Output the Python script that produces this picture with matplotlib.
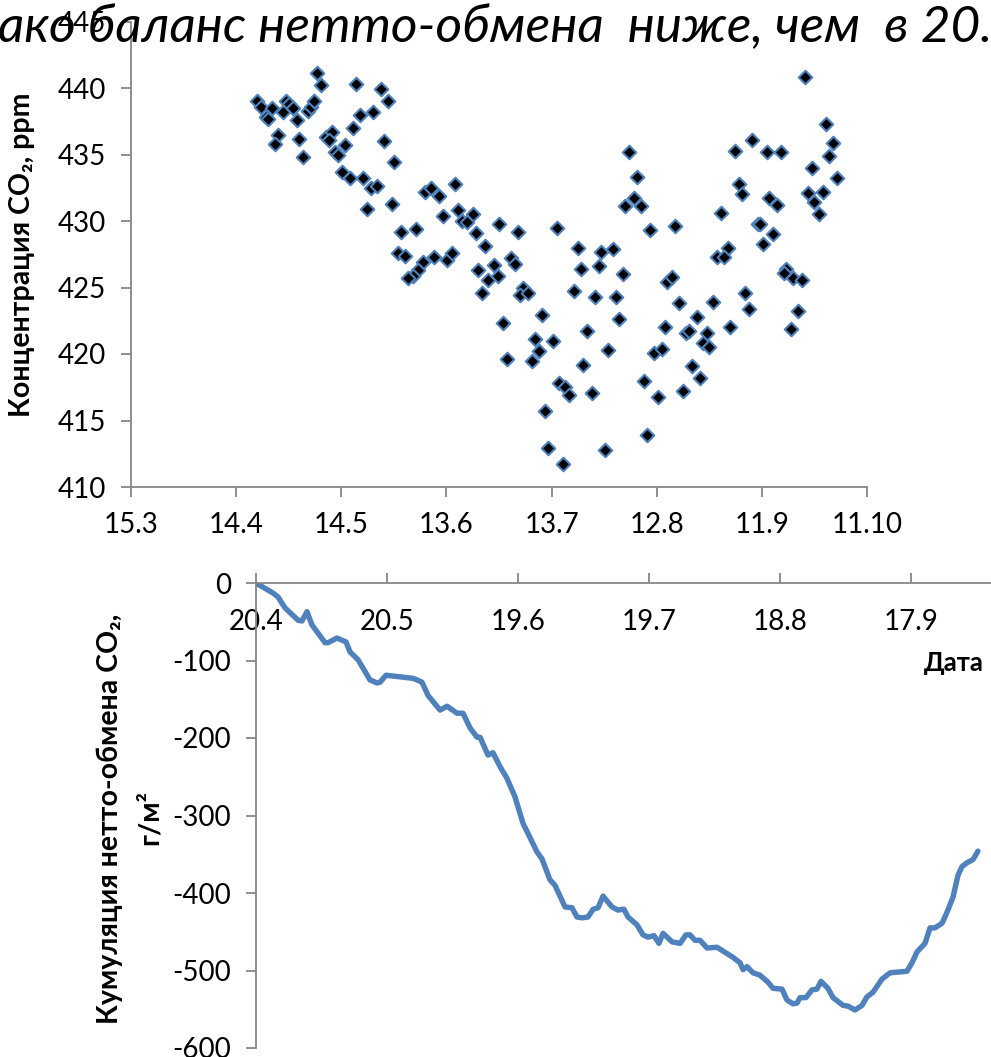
import matplotlib
matplotlib.use("Agg")
import matplotlib.pyplot as plt

plt.rcParams['font.family'] = ['Lato', 'DejaVu Sans']
plt.rcParams['axes.unicode_minus'] = False

GRAY = "#868686"
BLUE = "#4F81BD"

# верхний график: концентрация CO2 (позиция по оси дат, ppm)
top_dates = ["15.3", "14.4", "14.5", "13.6", "13.7", "12.8", "11.9", "11.10"]
co2_x = [1.77, 1.81, 2.14, 2.38, 2.44, 1.20, 1.24, 1.34, 1.28, 1.30,
         1.45, 1.47, 1.50, 1.54, 1.58, 1.68, 1.71, 1.74, 2.18, 2.30,
         2.11, 1.40, 1.37, 1.60, 1.64, 1.85, 1.91, 1.88, 2.04, 1.94,
         1.97, 2.41, 2.50, 2.01, 2.08, 2.21, 2.28, 2.34, 2.24, 2.48,
         2.80, 2.85, 2.93, 3.08, 2.97, 3.11, 3.15, 3.20, 3.25, 3.28,
         3.50, 3.68, 4.05, 2.57, 2.71, 3.37, 2.54, 2.61, 2.78, 2.88,
         3.01, 3.05, 2.73, 2.68, 2.63, 3.30, 3.45, 3.40, 3.49, 3.61,
         3.65, 3.34, 3.73, 3.70, 3.78, 4.25, 4.47, 4.58, 4.28, 4.45,
         4.68, 4.21, 4.41, 4.61, 4.64, 4.34, 3.91, 3.54, 3.84, 4.01,
         3.88, 4.54, 3.58, 3.81, 4.30, 4.07, 4.13, 4.17, 4.38, 3.94,
         3.97, 4.51, 4.11,
         6.41, 6.61, 6.68, 6.64, 6.48, 6.71, 6.44, 6.58, 6.50, 6.54,
         5.91, 5.74, 6.05, 6.18, 5.78, 5.81, 6.07, 6.14, 5.61, 5.96,
         5.98, 6.11, 6.01, 5.68, 5.57, 5.64, 4.74, 4.81, 4.78, 4.70,
         4.85, 4.94, 5.17, 6.23, 6.30, 6.38, 6.21, 5.10, 5.15, 5.84,
         5.21, 5.54, 5.88, 6.34, 6.28, 5.38, 5.70, 5.08, 5.28, 5.31,
         5.48, 5.44, 5.50, 4.97, 5.05, 5.34, 5.41, 5.25, 4.88, 5.01,
         4.91]
co2_ppm = [441.1, 440.2, 440.3, 439.9, 439.0, 439.0, 438.6, 438.5, 437.8, 437.7,
           438.2, 439.0, 438.8, 438.5, 437.6, 438.3, 438.6, 439.0, 438.0, 438.2,
           437.0, 436.5, 435.8, 436.2, 434.8, 436.3, 436.7, 436.1, 435.7, 435.2,
           435.0, 436.0, 434.4, 433.7, 433.2, 433.2, 432.5, 432.6, 430.9, 431.3,
           432.2, 432.5, 431.9, 432.8, 430.4, 430.8, 430.0, 429.9, 430.5, 429.1,
           429.8, 429.2, 429.5, 429.2, 429.4, 428.1, 427.6, 427.4, 426.9, 427.3,
           427.1, 427.6, 426.3, 425.9, 425.7, 426.3, 426.7, 425.6, 425.9, 427.2,
           426.8, 424.6, 425.0, 424.4, 424.6, 428.0, 427.7, 427.9, 426.4, 426.6,
           426.0, 424.7, 424.3, 424.3, 422.6, 421.7, 422.9, 422.3, 421.1, 421.0,
           420.2, 420.3, 419.6, 419.5, 419.2, 417.8, 417.5, 416.9, 417.1, 415.7,
           412.9, 412.8, 411.7,
           440.8, 437.3, 435.9, 434.9, 434.0, 433.2, 432.1, 432.2, 431.4, 430.5,
           436.1, 435.3, 435.2, 435.2, 432.8, 432.0, 431.7, 431.2, 430.6, 429.8,
           429.8, 429.0, 428.3, 428.0, 427.3, 427.3, 435.2, 433.3, 431.7, 431.1,
           431.1, 429.3, 429.6, 426.4, 425.7, 425.6, 426.1, 425.4, 425.8, 424.6,
           423.8, 423.9, 423.4, 423.2, 421.9, 422.8, 422.0, 422.0, 421.6, 421.7,
           421.6, 420.8, 420.5, 420.1, 420.4, 419.1, 418.2, 417.2, 418.0, 416.8,
           413.9]

# нижний график: кумуляция нетто-обмена CO2, г/м2
bottom_dates = ["20.4", "20.5", "19.6", "19.7", "18.8", "17.9"]
nee_x = [0.000, 0.130, 0.168, 0.221, 0.321, 0.351, 0.389, 0.427, 0.527, 0.550,
         0.618, 0.687, 0.718, 0.779, 0.870, 0.924, 0.947, 0.992, 1.198, 1.229,
         1.267, 1.313, 1.405, 1.458, 1.534, 1.580, 1.634, 1.687, 1.710, 1.771,
         1.809, 1.863, 1.916, 1.977, 2.038, 2.145, 2.183, 2.244, 2.282, 2.359,
         2.412, 2.450, 2.489, 2.534, 2.573, 2.611, 2.649, 2.718, 2.763, 2.809,
         2.840, 2.908, 2.954, 2.992, 3.038, 3.076, 3.107, 3.176, 3.237, 3.282,
         3.313, 3.351, 3.389, 3.443, 3.519, 3.641, 3.695, 3.718, 3.748, 3.794,
         3.847, 3.908, 3.947, 4.015, 4.053, 4.099, 4.130, 4.153, 4.198, 4.244,
         4.282, 4.313, 4.366, 4.405, 4.481, 4.519, 4.573, 4.626, 4.664, 4.710,
         4.779, 4.840, 4.901, 4.969, 5.008, 5.046, 5.107, 5.145, 5.183, 5.237,
         5.282, 5.321, 5.359, 5.389, 5.427, 5.473, 5.511]
nee_cum = [0, -13, -18, -32, -48, -49, -37, -54, -77, -77,
           -71, -76, -89, -99, -125, -129, -128, -119, -123, -125,
           -128, -145, -164, -159, -168, -168, -187, -199, -199, -222,
           -219, -237, -252, -276, -310, -347, -356, -383, -390, -418,
           -419, -431, -432, -431, -421, -419, -404, -418, -422, -421,
           -431, -441, -454, -457, -455, -465, -452, -463, -465, -454,
           -454, -461, -461, -471, -470, -483, -490, -499, -495, -503,
           -506, -515, -523, -524, -538, -543, -542, -535, -535, -525,
           -524, -514, -523, -535, -545, -546, -551, -545, -534, -528,
           -511, -503, -502, -501, -490, -476, -465, -445, -445, -439,
           -422, -405, -377, -366, -361, -357, -346]

W, H = 991, 1057
fig = plt.figure(figsize=(W / 100, H / 100), dpi=100)

# --- верхний график ---
ax1 = fig.add_axes([131 / W, 570 / H, 736 / W, 465.5 / H])
ax1.scatter(co2_x, co2_ppm, marker="D", s=48, facecolor="black",
            edgecolor=BLUE, linewidth=1.5, zorder=3, clip_on=False)
ax1.set_xlim(0, len(top_dates) - 1)
ax1.set_ylim(410, 445)
ax1.set_xticks(range(len(top_dates)))
ax1.set_xticklabels(top_dates)
ax1.set_yticks(range(410, 446, 5))
for s in ["top", "right"]:
    ax1.spines[s].set_visible(False)
for s in ["left", "bottom"]:
    ax1.spines[s].set_color(GRAY)
    ax1.spines[s].set_linewidth(1.3)
ax1.tick_params(axis="both", direction="out", length=7, width=1.3,
                color=GRAY, labelsize=20, pad=11)

fig.text(22 / W, 1 - 255 / H, "Концентрация CO₂, ppm", rotation=90,
         ha="center", va="center", fontsize=20.5, fontweight="bold")

# --- нижний график ---
ax2 = fig.add_axes([256 / W, 9 / H, 735 / W, 465 / H])
ax2.plot(nee_x, nee_cum, color=BLUE, linewidth=3.9, solid_capstyle="round")
ax2.set_xlim(0, 735 / 131)
ax2.set_ylim(-600, 0)
ax2.set_xticks(range(len(bottom_dates)))
ax2.set_xticklabels(bottom_dates)
ax2.set_yticks(range(-600, 1, 100))
ax2.spines["top"].set_visible(False)
ax2.spines["right"].set_visible(False)
ax2.spines["bottom"].set_position(("data", 0))
for s in ["left", "bottom"]:
    ax2.spines[s].set_color(GRAY)
    ax2.spines[s].set_linewidth(1.3)
ax2.tick_params(axis="x", direction="in", length=7, width=1.3,
                color=GRAY, labelsize=20, pad=19)
ax2.tick_params(axis="y", direction="out", length=7, width=1.3,
                color=GRAY, labelsize=20, pad=11)

fig.text(110 / W, 1 - 819 / H, "Кумуляция нетто-обмена CO₂,", rotation=90,
         ha="center", va="center", fontsize=20.5, fontweight="bold")
fig.text(150 / W, 1 - 817 / H, "г/м²", rotation=90,
         ha="center", va="center", fontsize=20.5, fontweight="bold")
fig.text(984 / W, 1 - 663 / H, "Дата", ha="right", va="center",
         fontsize=18.5, fontweight="bold")

# заголовок (обрезан, как на исходной картинке)
fig.text(-2 / W, 1 - 28 / H, "ако баланс нетто-обмена  ниже, чем  в 20.",
         ha="left", va="center", fontsize=37, style="italic")

fig.savefig("out.png", dpi=100)
